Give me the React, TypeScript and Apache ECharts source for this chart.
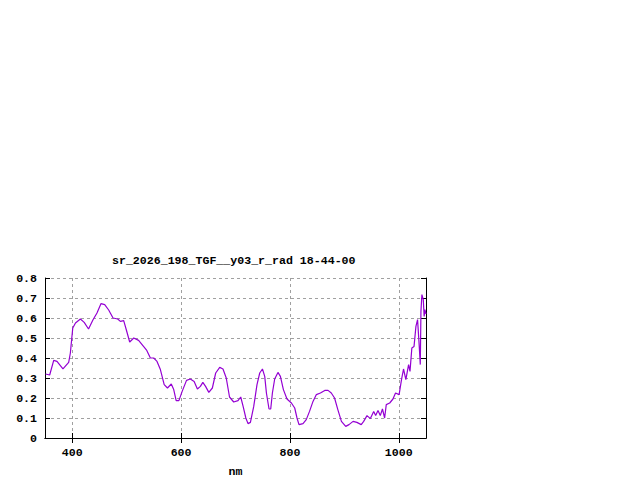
import React, { useEffect, useRef } from "react";
import * as echarts from "echarts";

const titleText = "sr_2026_198_TGF__y03_r_rad 18-44-00";
const xName = "nm";
const xTicks = [400, 600, 800, 1000];
const wavelengths = [
  351, 358.6, 366, 372, 383, 393.5, 396.6, 401, 406, 415, 422, 430, 438, 445.5, 453, 459.7, 467, 475,
  483.6, 488.5, 494.6, 499.5, 505.6, 513, 522, 531, 537, 543.6, 549.7, 555.8, 562, 569, 575, 582,
  586.5, 591, 596, 602, 610, 617, 624, 630, 635.5, 640, 645, 651, 657.5, 663.6, 671, 677, 683, 689,
  696.7, 704.6, 709.6, 714, 719, 723, 727.4, 733.5, 739.5, 744.5, 749.5, 753.7, 756.8, 761.6, 764.7,
  767.8, 772, 778, 782.5, 788, 794.6, 802.7, 808.8, 813, 816.7, 824, 830, 836, 842.4, 848.6, 856, 864,
  870, 876, 882, 888, 894.6, 902.5, 908.5, 916, 923, 931, 935.5, 941.6, 947.8, 953.9, 957.5, 961.8,
  966, 970, 974, 977, 983.3, 989.3, 994, 1000.6, 1005, 1008.7, 1013, 1018, 1020.6, 1024, 1028, 1031.5,
  1034.5, 1037.6, 1039.5, 1040.7, 1042.5, 1045, 1046.6, 1048, 1050,
];
const radiance = [
  0.32, 0.315, 0.388, 0.383, 0.346, 0.378, 0.425, 0.55, 0.575, 0.595, 0.578, 0.545, 0.59, 0.625, 0.672,
  0.667, 0.64, 0.6, 0.595, 0.583, 0.587, 0.54, 0.48, 0.5, 0.488, 0.458, 0.438, 0.4, 0.4, 0.383, 0.342,
  0.267, 0.25, 0.27, 0.242, 0.187, 0.187, 0.233, 0.288, 0.295, 0.283, 0.245, 0.258, 0.278, 0.258, 0.228,
  0.25, 0.325, 0.353, 0.345, 0.3, 0.205, 0.18, 0.187, 0.205, 0.158, 0.1, 0.072, 0.078, 0.158, 0.267,
  0.325, 0.345, 0.308, 0.225, 0.145, 0.145, 0.225, 0.295, 0.328, 0.308, 0.242, 0.195, 0.175, 0.15, 0.1,
  0.067, 0.072, 0.092, 0.133, 0.183, 0.217, 0.225, 0.238, 0.238, 0.225, 0.2, 0.142, 0.083, 0.058, 0.067,
  0.083, 0.078, 0.067, 0.083, 0.112, 0.097, 0.133, 0.112, 0.137, 0.112, 0.145, 0.1, 0.167, 0.175, 0.195,
  0.225, 0.217, 0.292, 0.345, 0.292, 0.367, 0.333, 0.45, 0.458, 0.558, 0.592, 0.458, 0.367, 0.633,
  0.717, 0.692, 0.608, 0.642, 0.62,
];

const FONT = "Liberation Mono";
const gridLine = { show: true, lineStyle: { color: "#a0a0a0", type: [3, 3] as any, width: 1 } };
const axisLine = { show: true, lineStyle: { color: "#000", width: 1 } };

export default function App() {
  const ref = useRef<HTMLDivElement>(null);
  useEffect(() => {
    if (!ref.current) return;
    const chart = echarts.init(ref.current, null, { renderer: "svg" });
    const data = wavelengths.map((w, i) => [w, radiance[i]]);
    chart.setOption({
      animation: false,
      backgroundColor: "#fff",
      title: {
        text: titleText,
        left: 107,
        top: 249,
        textStyle: { fontFamily: FONT, fontSize: 11.6, fontWeight: "bold", color: "#000" },
      },
      grid: { left: 45, top: 278, width: 381, height: 160 },
      xAxis: [
        {
          type: "value",
          min: 350,
          max: 1050,
          position: "bottom",
          name: xName,
          nameLocation: "middle",
          nameGap: 27,
          nameTextStyle: { fontFamily: FONT, fontSize: 11.6, fontWeight: "bold", color: "#000" },
          axisLine,
          axisTick: { show: true, inside: true, length: 5, customValues: xTicks, lineStyle: { color: "#000" } },
          axisLabel: {
            customValues: xTicks,
            margin: 8,
            fontFamily: FONT,
            fontSize: 11.6,
            fontWeight: "bold",
            color: "#000",
            formatter: (v: number) => String(v),
          },
          splitLine: gridLine,
        },
        {
          type: "value",
          min: 350,
          max: 1050,
          position: "top",
          axisLine,
          axisTick: { show: true, inside: true, length: 5, customValues: xTicks, lineStyle: { color: "#000" } },
          axisLabel: { show: false, customValues: xTicks },
          splitLine: { show: false },
        },
      ],
      yAxis: [
        {
          type: "value",
          min: 0,
          max: 0.8,
          interval: 0.1,
          position: "left",
          axisLine,
          axisTick: { show: true, inside: true, length: 5, lineStyle: { color: "#000" } },
          axisLabel: {
            margin: 8,
            fontFamily: FONT,
            fontSize: 11.6,
            fontWeight: "bold",
            color: "#000",
            formatter: (v: number) => (v === 0 ? "0" : v.toFixed(1)),
          },
          splitLine: gridLine,
        },
        {
          type: "value",
          min: 0,
          max: 0.8,
          interval: 0.1,
          position: "right",
          axisLine,
          axisTick: { show: true, inside: true, length: 5, lineStyle: { color: "#000" } },
          axisLabel: { show: false },
          splitLine: { show: false },
        },
      ],
      series: [
        {
          type: "line",
          data,
          xAxisIndex: 0,
          yAxisIndex: 0,
          showSymbol: false,
          symbol: "none",
          lineStyle: { color: "#9400d3", width: 1.2 },
          z: 5,
        },
      ],
    });
    return () => chart.dispose();
  }, []);
  return (
    <div
      ref={ref}
      style={{ position: "absolute", left: 0, top: 0, width: 640, height: 480, background: "#fff" }}
    />
  );
}
